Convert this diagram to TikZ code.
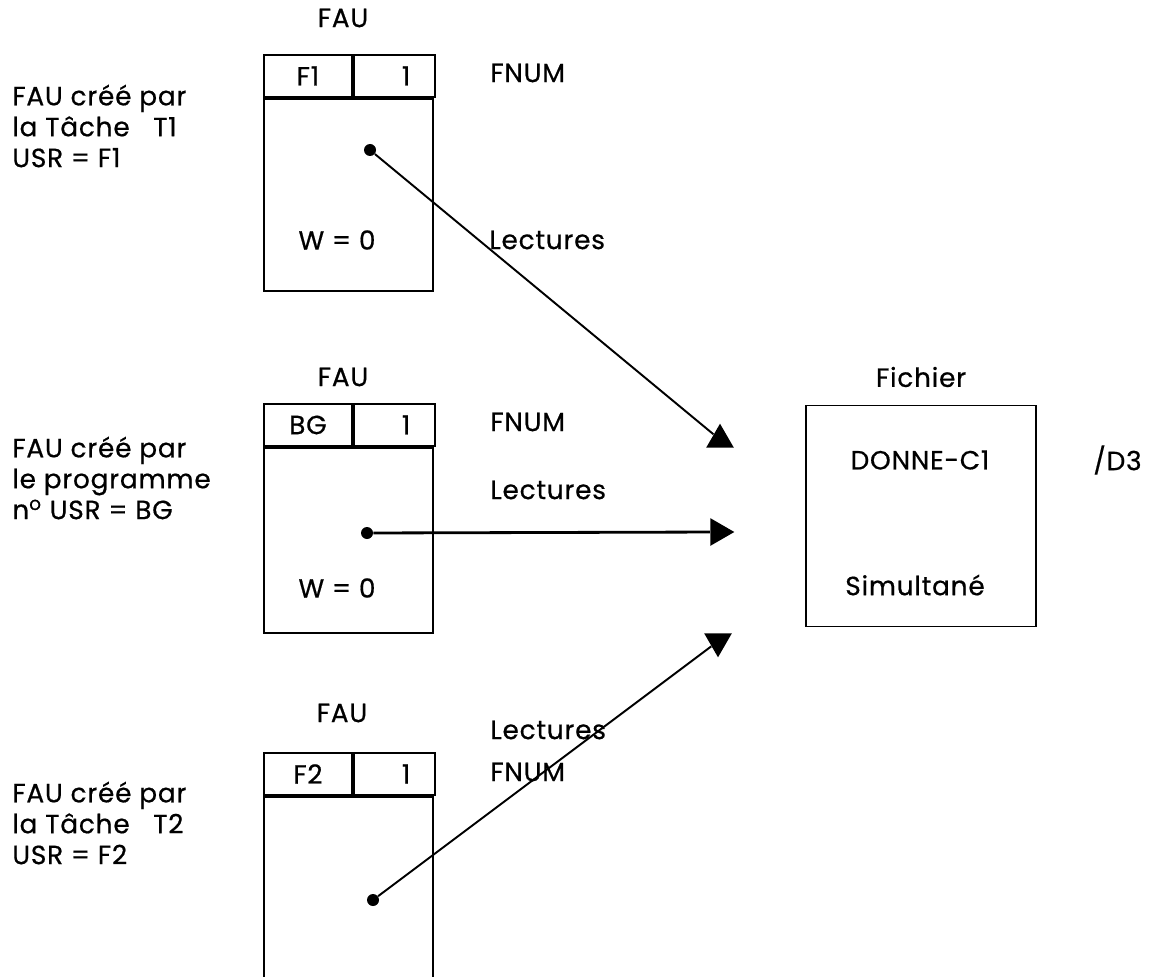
\documentclass[tikz,border=0pt]{standalone}
\usepackage{fontspec}
\setmainfont{Poppins}[FakeBold=0.6, LetterSpace=3]
\usetikzlibrary{positioning,shapes.geometric}

\begin{document}
\begin{tikzpicture}[
  x=0.02cm, y=-0.02cm,
  font=\fontsize{15}{17.6}\selectfont,
  cell/.style={draw, line width=1.1pt, minimum height=0.84cm, inner sep=0pt},
  num/.style={cell, minimum width=1.62cm, text width=0.64cm, align=right},
  body/.style={draw, line width=1.1pt, minimum width=3.38cm, inner sep=0pt, anchor=north west},
  note/.style={align=left, anchor=west, inner sep=0pt},
  tag/.style={anchor=west, inner sep=0pt},
  dot/.style={circle, fill=black, inner sep=0pt, minimum size=0.24cm},
  tip/.style={regular polygon, regular polygon sides=3, fill=black, inner sep=0pt, minimum size=0.64cm, anchor=corner 1},
  link/.style={line width=1.1pt},
]
\useasboundingbox (0,0) rectangle (1151,976);
\clip (0,0) rectangle (1151,976);

% ------------------------------------------------------------------ FAU of task T1
\node[note] (c1) at (12,126) {FAU créé par\\la Tâche \ \ T1\\USR = F1};
\node (fau1) at (343,18) {FAU};
\node[cell, minimum width=1.76cm, anchor=north west] (k1) at (263,54) {F1};
\node[num, right=0pt of k1] (v1) {1};
\node[body, minimum height=3.84cm] (b1) at (k1.south west) {};
\node (w1) at (337,240) {W = 0};
\node[tag] (fnum1) at (490,73) {FNUM};
\node[dot] (p1) at (370,150) {};

% ------------------------------------------------------------------ FAU of program BG
\node[note] (c2) at (12,478) {FAU créé par\\le programme\\n\textsuperscript{o} USR = BG};
\node (fau2) at (343,377) {FAU};
\node[cell, minimum width=1.76cm, anchor=north west] (k2) at (263,403) {BG};
\node[num, right=0pt of k2] (v2) {1};
\node[body, minimum height=3.7cm] (b2) at (k2.south west) {};
\node (w2) at (337,588) {W = 0};
\node[tag] (fnum2) at (490,422) {FNUM};
\node[dot] (p2) at (367,533) {};

% ------------------------------------------------------------------ FAU of task T2
\node[note] (c3) at (12,823) {FAU créé par\\la Tâche \ \ T2\\USR = F2};
\node (fau3) at (342,713) {FAU};
\node[cell, minimum width=1.76cm, anchor=north west] (k3) at (263,752) {F2};
\node[num, right=0pt of k3] (v3) {1};
\node[body, minimum height=4.2cm] (b3) at (k3.south west) {};
\node[tag] (fnum3) at (490,772) {FNUM};
\node[dot] (p3) at (373,900) {};

% ------------------------------------------------------------------ shared file
\node[draw, line width=1.1pt, minimum width=4.6cm, minimum height=4.42cm] (fic) at (921,516) {};
\node (fictitle) at (921,377) {Fichier};
\node (donne) at (920,460) {DONNE-C1};
\node (simul) at (915,585) {Simultané};
\node[tag] (d3) at (1093,460) {/D3};

% ------------------------------------------------------------------ reads
\node[tip] (t1) at (720,423) {};
\node[tip, regular polygon rotate=-90] (t2) at (735,532) {};
\node[tip, regular polygon rotate=180] (t3) at (718,658) {};

\draw[link] (p1) -- (t1);
\draw[link, line width=1.6pt] (p2) -- (t2);
\draw[link] (p3) -- (t3);

\node[tag] (lec1) at (489,240) {Lectures};
\node[tag] (lec2) at (490,490) {Lectures};
\node[tag] (lec3) at (490,730) {Lectures};
\end{tikzpicture}
\end{document}
